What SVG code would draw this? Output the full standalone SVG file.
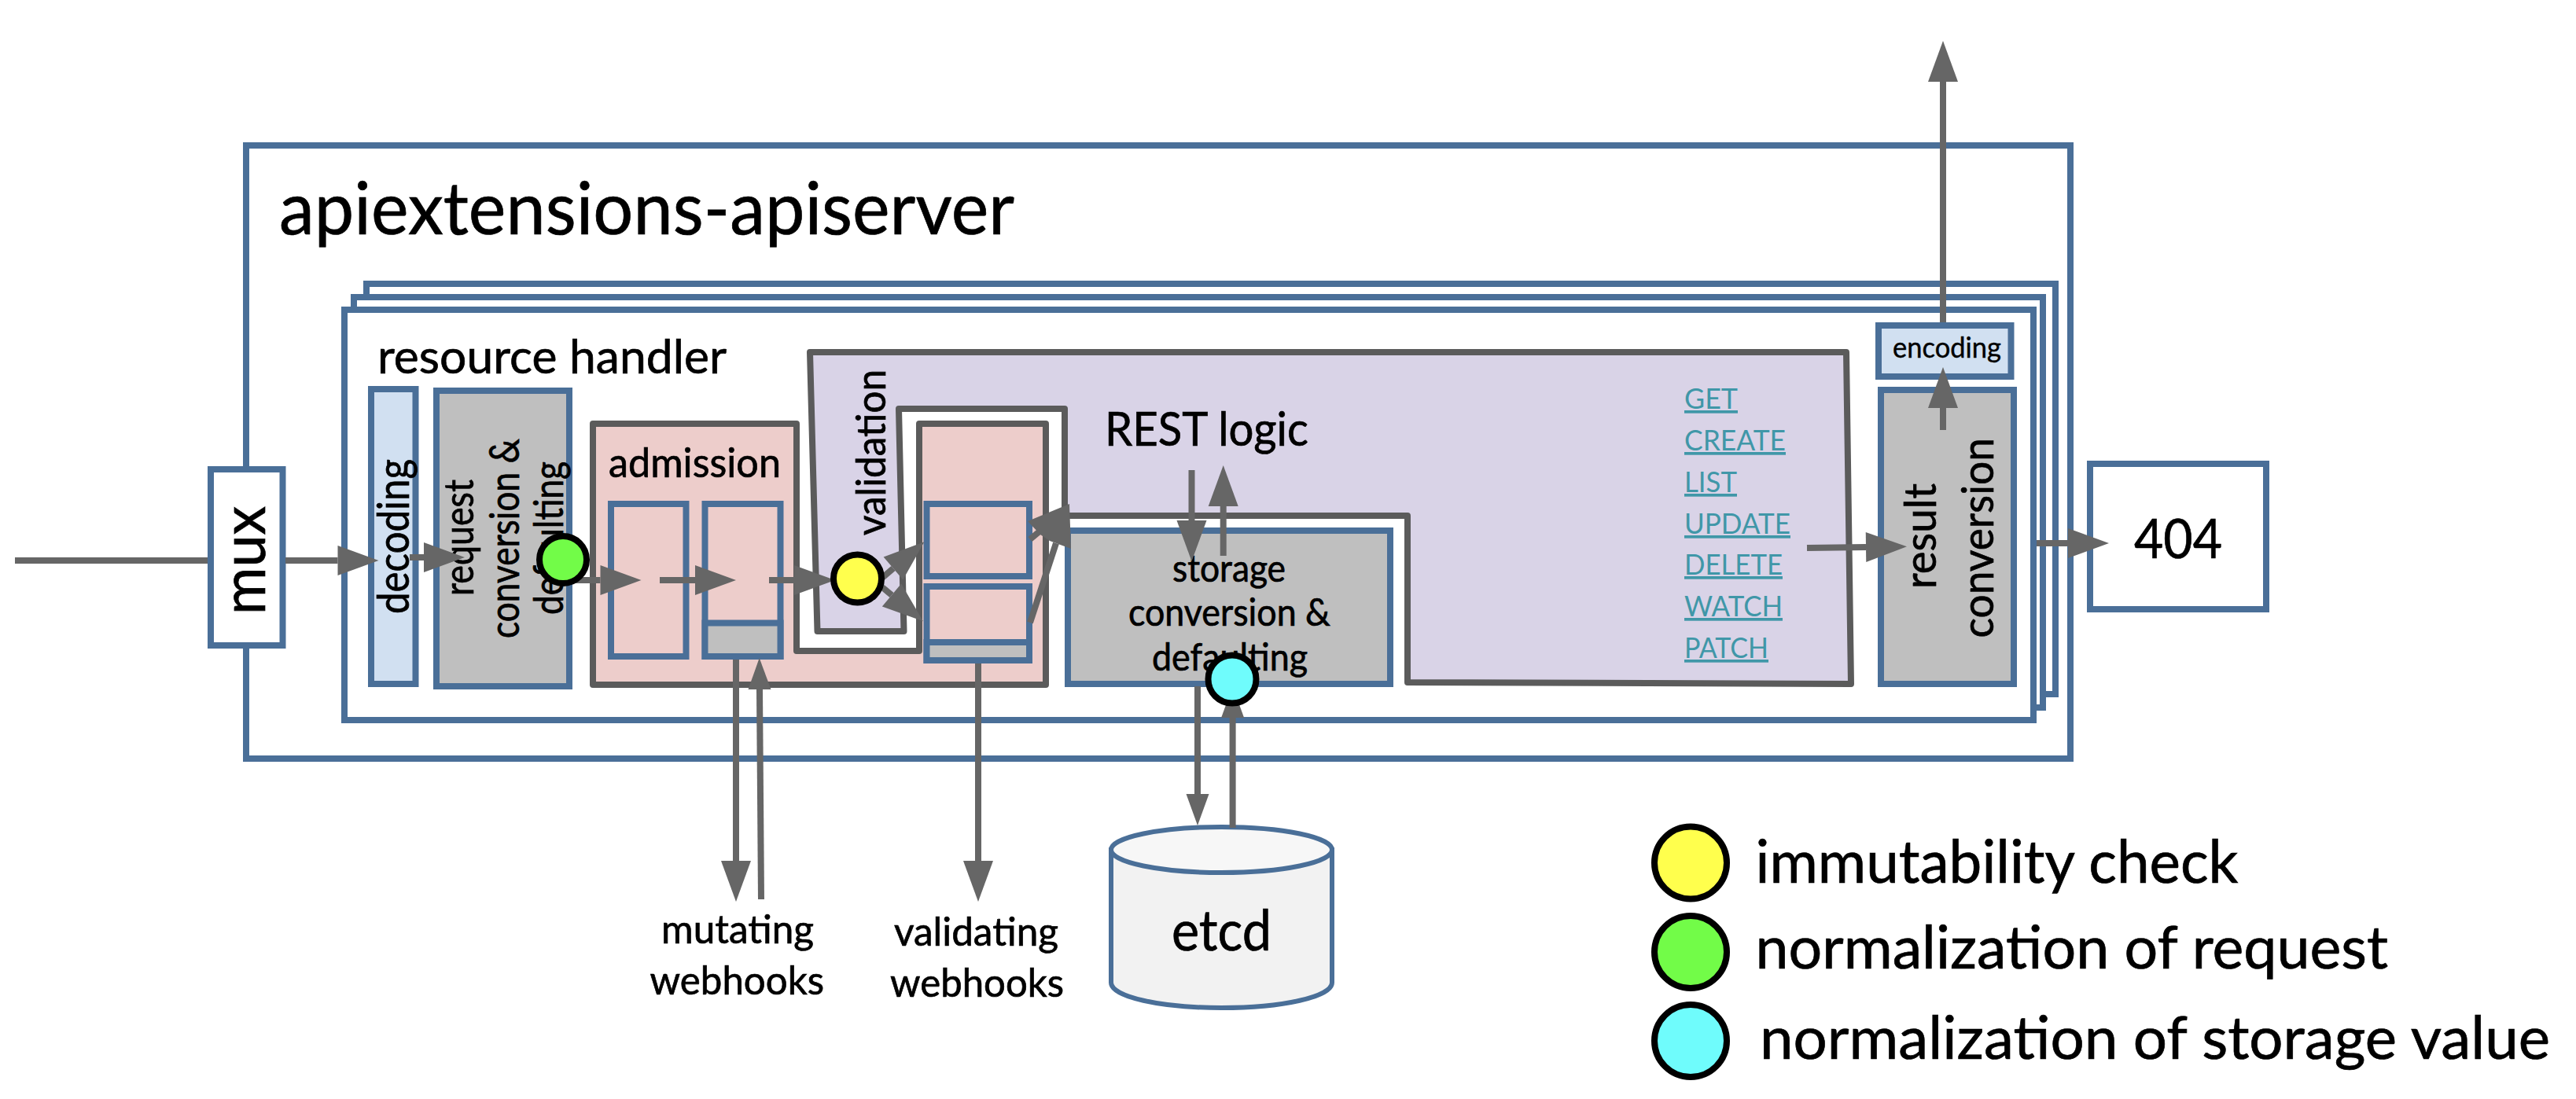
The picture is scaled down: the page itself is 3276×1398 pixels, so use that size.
<svg xmlns="http://www.w3.org/2000/svg" width="3276" height="1398" viewBox="0 0 3276 1398">
<defs>
<style>
text{font-family:"Lato","Open Sans","Liberation Sans",sans-serif;fill:#000;stroke:#000;stroke-width:.7}
.b{stroke:#4a6f98;stroke-width:8;fill:#fff}
.gr{stroke:#4a6f98;stroke-width:8;fill:#bfbfbf}
.lb{stroke:#4a6f98;stroke-width:8;fill:#d1e0f1}
.pk{stroke:#4a6f98;stroke-width:8;fill:#edcdcb}
.reg{stroke:#5b5b5b;stroke-width:8;stroke-linejoin:round}
.c{stroke:#666;stroke-width:8;fill:none}
.h{marker-end:url(#big)}
.s{marker-end:url(#small)}
.dot{stroke:#000;stroke-width:8}
text.lnk{fill:#4097a8;stroke:none;font-size:37px;text-decoration:underline}
</style>
<marker id="big" markerUnits="userSpaceOnUse" markerWidth="56" markerHeight="44" refX="0" refY="20" orient="auto" overflow="visible"><path d="M0,1 L52,20 L0,39z" fill="#666"/></marker>
<marker id="small" markerUnits="userSpaceOnUse" markerWidth="44" markerHeight="34" refX="0" refY="15" orient="auto" overflow="visible"><path d="M0,0.5 L40,15 L0,29.5z" fill="#666"/></marker>
</defs>
<rect width="3276" height="1398" fill="#fff"/>
<g id="apiextensions-apiserver">
<rect class="b" x="313" y="185" width="2320" height="780"/>
<text x="355" y="298" font-size="94" textLength="935" lengthAdjust="spacingAndGlyphs">apiextensions-apiserver</text>
</g>
<g id="handler-frames">
<rect class="b" x="466" y="361" width="2148" height="522"/>
<rect class="b" x="450" y="378" width="2148" height="522"/>
<rect class="b" x="438" y="394" width="2148" height="522"/>
<text x="480" y="475" font-size="60" textLength="444" lengthAdjust="spacingAndGlyphs">resource handler</text>
</g>
<g id="decoding">
<rect class="lb" x="472" y="495" width="56.500" height="375"/>
<text transform="translate(520,781) rotate(-90)" font-size="56" textLength="197" lengthAdjust="spacingAndGlyphs">decoding</text>
</g>
<g id="request-conversion">
<rect class="gr" x="555" y="497" width="169" height="376"/>
<text transform="translate(602,758) rotate(-90)" font-size="52" textLength="148" lengthAdjust="spacingAndGlyphs">request</text>
<text transform="translate(660,812) rotate(-90)" font-size="52" textLength="254" lengthAdjust="spacingAndGlyphs">conversion &amp;</text>
<text transform="translate(716,782) rotate(-90)" font-size="52" textLength="195" lengthAdjust="spacingAndGlyphs">defaulting</text>
</g>
<g id="admission">
<path class="reg" fill="#edcdcb" d="M754,539H1013V828H1169V539H1330V871H754Z"/>
<text x="774" y="607" font-size="52" textLength="219" lengthAdjust="spacingAndGlyphs">admission</text>
</g>
<g id="admission-step-1"><rect class="pk" x="777" y="641" width="95.500" height="194"/></g>
<g id="admission-step-2">
<rect class="pk" x="896.500" y="641" width="96" height="194"/>
<rect x="896.500" y="792.500" width="96" height="42.500" class="gr"/>
</g>
<g id="rest-logic">
<path class="reg" fill="#d9d3e7" d="M1030,448H2348L2354,870L1790,868V656H1354V520H1143L1149.500,803H1039.500Z"/>
<text transform="translate(1126,681) rotate(-90)" font-size="52" textLength="211" lengthAdjust="spacingAndGlyphs">validation</text>
<text x="1405" y="567" font-size="60" textLength="259" lengthAdjust="spacingAndGlyphs">REST logic</text>
<text class="lnk" x="2142" y="520" textLength="68" lengthAdjust="spacingAndGlyphs">GET</text>
<text class="lnk" x="2142" y="573" textLength="129" lengthAdjust="spacingAndGlyphs">CREATE</text>
<text class="lnk" x="2142" y="626" textLength="67" lengthAdjust="spacingAndGlyphs">LIST</text>
<text class="lnk" x="2142" y="679" textLength="135" lengthAdjust="spacingAndGlyphs">UPDATE</text>
<text class="lnk" x="2142" y="731" textLength="125" lengthAdjust="spacingAndGlyphs">DELETE</text>
<text class="lnk" x="2142" y="784" textLength="125" lengthAdjust="spacingAndGlyphs">WATCH</text>
<text class="lnk" x="2142" y="837" textLength="107" lengthAdjust="spacingAndGlyphs">PATCH</text>
</g>
<g id="validation-step-1"><rect class="pk" x="1178.500" y="641" width="130.500" height="92"/></g>
<g id="validation-step-2">
<rect class="pk" x="1178.500" y="746" width="130.500" height="94"/>
<rect class="gr" x="1178.500" y="817" width="130.500" height="23"/>
</g>
<g id="storage-conversion">
<rect class="gr" x="1358" y="675" width="410" height="195"/>
<text x="1491" y="740" font-size="48" textLength="144" lengthAdjust="spacingAndGlyphs">storage</text>
<text x="1435" y="796" font-size="48" textLength="257" lengthAdjust="spacingAndGlyphs">conversion &amp;</text>
<text x="1465" y="853" font-size="48" textLength="198" lengthAdjust="spacingAndGlyphs">defaulting</text>
</g>
<g id="encoding">
<rect class="lb" x="2389" y="414" width="168.500" height="65"/>
<text x="2407" y="455" font-size="36" textLength="138" lengthAdjust="spacingAndGlyphs" style="stroke-width:.4">encoding</text>
</g>
<g id="result-conversion">
<rect class="gr" x="2392" y="496" width="169" height="374"/>
<text transform="translate(2462,749) rotate(-90)" font-size="56" textLength="134" lengthAdjust="spacingAndGlyphs">result</text>
<text transform="translate(2535,811.500) rotate(-90)" font-size="56" textLength="254.500" lengthAdjust="spacingAndGlyphs">conversion</text>
</g>
<g id="mux">
<rect class="b" x="268" y="597" width="91.500" height="224"/>
<text transform="translate(337,782) rotate(-90)" font-size="78" textLength="138" lengthAdjust="spacingAndGlyphs">mux</text>
</g>
<g id="not-found">
<rect class="b" x="2658" y="590" width="224" height="185"/>
<text x="2714" y="710" font-size="70" textLength="112" lengthAdjust="spacingAndGlyphs">404</text>
</g>
<g id="etcd">
<path d="M1413,1081V1250C1413,1268 1476,1282 1553.500,1282C1631,1282 1694,1268 1694,1250V1081Z" fill="#f2f2f2" stroke="#4a6f98" stroke-width="6"/>
<ellipse cx="1553.500" cy="1081" rx="140.500" ry="29" fill="#f7f7f7" stroke="#4a6f98" stroke-width="6"/>
<text x="1490" y="1209" font-size="72" textLength="127" lengthAdjust="spacingAndGlyphs">etcd</text>
</g>
<g id="mutating-webhooks">
<text x="841" y="1200" font-size="50" textLength="194" lengthAdjust="spacingAndGlyphs">mutating</text>
<text x="826.500" y="1265" font-size="50" textLength="221.500" lengthAdjust="spacingAndGlyphs">webhooks</text>
</g>
<g id="validating-webhooks">
<text x="1137" y="1203" font-size="50" textLength="209" lengthAdjust="spacingAndGlyphs">validating</text>
<text x="1132" y="1268" font-size="50" textLength="221" lengthAdjust="spacingAndGlyphs">webhooks</text>
</g>
<g id="connectors">
<line class="c" x1="19" y1="713" x2="264" y2="713"/>
<line class="c h" x1="363" y1="713" x2="429.500" y2="713"/>
<line class="c h" x1="521" y1="709" x2="539" y2="709"/>
<line class="c h" x1="726" y1="738" x2="763.500" y2="738"/>
<line class="c h" x1="839" y1="738" x2="884" y2="738"/>
<line class="c h" x1="978" y1="738" x2="1010" y2="738"/>
<line class="c h" x1="1122" y1="735" x2="1136" y2="723"/>
<line class="c h" x1="1122" y1="747" x2="1134" y2="757"/>
<line class="c" x1="1310" y1="686" x2="1322" y2="676"/>
<line class="c" x1="1310" y1="792" x2="1343" y2="691"/>
<polygon points="1307,663 1360,641 1362,698 1335,688 1323,680" fill="#666"/>
<line class="c h" x1="1515.500" y1="598" x2="1515.500" y2="662"/>
<line class="c h" x1="1555.700" y1="707" x2="1555.700" y2="644"/>
<line class="c h" x1="2298" y1="697" x2="2373" y2="696"/>
<line class="c h" x1="2590" y1="691" x2="2630" y2="691"/>
<line class="c h" x1="2471" y1="547" x2="2471" y2="519"/>
<line class="c h" x1="2471" y1="410" x2="2471" y2="104"/>
<line class="c h" x1="936" y1="839" x2="936" y2="1095"/>
<line class="c s" x1="968" y1="1144" x2="966" y2="877"/>
<line class="c h" x1="1244" y1="844" x2="1244" y2="1095"/>
<line class="c s" x1="1523" y1="873" x2="1523" y2="1010"/>
<line class="c s" x1="1567.600" y1="1053" x2="1567.600" y2="913"/>
</g>
<g id="check-immutability-inline"><circle class="dot" cx="1090.500" cy="736" r="30.500" fill="#ffff4d"/></g>
<g id="check-request-inline"><circle class="dot" cx="716" cy="712" r="30" fill="#72fc48"/></g>
<g id="check-storage-inline"><circle class="dot" cx="1567" cy="864" r="30.500" fill="#6ffcfc"/></g>
<g id="legend">
<circle class="dot" cx="2150" cy="1097.500" r="46" fill="#ffff4d"/>
<circle class="dot" cx="2150" cy="1211" r="46" fill="#72fc48"/>
<circle class="dot" cx="2150" cy="1324" r="46" fill="#6ffcfc"/>
<text x="2232.500" y="1123" font-size="75" textLength="614" lengthAdjust="spacingAndGlyphs">immutability check</text>
<text x="2232.500" y="1232" font-size="75" textLength="804.500" lengthAdjust="spacingAndGlyphs">normalization of request</text>
<text x="2238" y="1347" font-size="75" textLength="1005" lengthAdjust="spacingAndGlyphs">normalization of storage value</text>
</g>
</svg>
